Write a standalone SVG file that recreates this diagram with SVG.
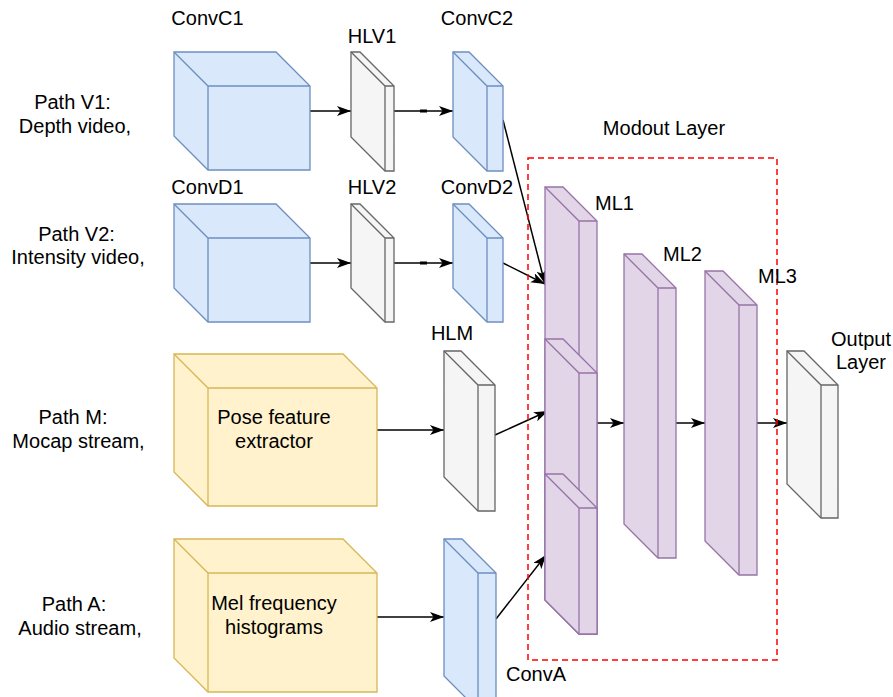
<svg xmlns="http://www.w3.org/2000/svg" width="893" height="697" viewBox="0 0 893 697">
<defs>
<marker id="arr" markerWidth="15" markerHeight="11" refX="14" refY="5" orient="auto" markerUnits="userSpaceOnUse">
<path d="M0,0 L14,5 L0,10 L3.5,5 Z" fill="#000"/>
</marker>
</defs>
<style>
text{font-family:"Liberation Sans",Arial,sans-serif;font-size:20px;fill:#000;text-anchor:middle}
.blue{fill:#dae8fc;stroke:#6c8ebf;stroke-width:1.3}
.gray{fill:#f5f5f5;stroke:#666666;stroke-width:1.3}
.yel{fill:#fff2cc;stroke:#d6b656;stroke-width:1.3}
.pur{fill:#e1d5e7;stroke:#9673a6;stroke-width:1.3}
.in{fill:none}
.c{fill:none;stroke:#000;stroke-width:1.5;marker-end:url(#arr)}
</style>
<rect width="893" height="697" fill="#fff"/>
<g id="connectors">
<path class="c" d="M310,111 H351"/>
<path class="c" d="M394,111 H453"/>
<rect x="420" y="109.5" width="7" height="3" fill="#000"/>
<path class="c" d="M310,263 H351"/>
<path class="c" d="M394,263 H453"/>
<rect x="420" y="261.5" width="7" height="3" fill="#000"/>
<path class="c" d="M503,120 L545,284"/>
<path class="c" d="M503,263 L545,284"/>
<path class="c" d="M377,430 H444"/>
<path class="c" d="M495,435 L548,411"/>
<path class="c" d="M377,617 H444"/>
<path class="c" d="M496,619 L546,555"/>
<path class="c" d="M597,423 H624"/>
<path class="c" d="M676,423 H705"/>
<path class="c" d="M757,423 H787"/>
</g>
<g id="ConvC1"><path class="blue" d="M174,52 H276 L310,86 V170 H208 L174,136 Z"/><path class="blue in" d="M174,52 L208,86 H310 M208,86 V170"/></g>
<g id="HLV1"><path class="gray" d="M351,52 H360 L394,86 V171 H385 L351,137 Z"/><path class="gray in" d="M351,52 L385,86 H394 M385,86 V171"/></g>
<g id="ConvC2"><path class="blue" d="M453,52 H469 L503,86 V171 H487 L453,137 Z"/><path class="blue in" d="M453,52 L487,86 H503 M487,86 V171"/></g>
<g id="ConvD1"><path class="blue" d="M174,204 H276 L310,238 V322 H208 L174,288 Z"/><path class="blue in" d="M174,204 L208,238 H310 M208,238 V322"/></g>
<g id="HLV2"><path class="gray" d="M351,204 H360 L394,238 V322 H385 L351,288 Z"/><path class="gray in" d="M351,204 L385,238 H394 M385,238 V322"/></g>
<g id="ConvD2"><path class="blue" d="M453,204 H469 L503,238 V322 H487 L453,288 Z"/><path class="blue in" d="M453,204 L487,238 H503 M487,238 V322"/></g>
<g id="Pose"><path class="yel" d="M174,354 H343 L377,388 V506 H208 L174,472 Z"/><path class="yel in" d="M174,354 L208,388 H377 M208,388 V506"/>
<text x="274" y="424">Pose feature</text><text x="274" y="448">extractor</text></g>
<g id="HLM"><path class="gray" d="M444,351 H461 L495,385 V511 H478 L444,477 Z"/><path class="gray in" d="M444,351 L478,385 H495 M478,385 V511"/></g>
<g id="Mel"><path class="yel" d="M174,539 H343 L377,573 V692 H208 L174,658 Z"/><path class="yel in" d="M174,539 L208,573 H377 M208,573 V692"/>
<text x="274" y="610">Mel frequency</text><text x="274" y="634">histograms</text></g>
<g id="ConvA"><path class="blue" d="M444,539 H462 L496,573 V710 H478 L444,676 Z"/><path class="blue in" d="M444,539 L478,573 H496 M478,573 V710"/></g>
<g id="ML1">
<path class="pur" d="M545,187 H563 L597,221 V634 H579 L545,600 Z"/><path class="pur in" d="M545,187 L579,221 H597 M579,221 V634"/>
<path class="pur" d="M545,339 H563 L597,373 V634 H579 L545,600 Z"/><path class="pur in" d="M545,339 L579,373 H597 M579,373 V634"/>
<path class="pur" d="M545,474 H563 L597,508 V634 H579 L545,600 Z"/><path class="pur in" d="M545,474 L579,508 H597 M579,508 V634"/>
</g>
<g id="ML2"><path class="pur" d="M624,254 H642 L676,288 V558 H658 L624,524 Z"/><path class="pur in" d="M624,254 L658,288 H676 M658,288 V558"/></g>
<g id="ML3"><path class="pur" d="M705,271 H723 L757,305 V575 H739 L705,541 Z"/><path class="pur in" d="M705,271 L739,305 H757 M739,305 V575"/></g>
<g id="Output"><path class="gray" d="M787,351 H804 L838,385 V518 H821 L787,484 Z"/><path class="gray in" d="M787,351 L821,385 H838 M821,385 V518"/></g>
<g id="Modout"><rect x="528" y="158" width="249" height="502" fill="none" stroke="#ff0000" stroke-width="1.5" stroke-dasharray="6 4"/></g>
<g id="labels">
<text x="207.5" y="25">ConvC1</text>
<text x="372" y="43">HLV1</text>
<text x="477" y="25">ConvC2</text>
<text x="207.5" y="194">ConvD1</text>
<text x="372" y="194">HLV2</text>
<text x="477" y="194">ConvD2</text>
<text x="452" y="340">HLM</text>
<text x="536" y="681">ConvA</text>
<text x="614.5" y="210">ML1</text>
<text x="682.5" y="261">ML2</text>
<text x="777.5" y="283">ML3</text>
<text x="664" y="135">Modout Layer</text>
<text x="861" y="346">Output</text>
<text x="861" y="369">Layer</text>
<text x="72.5" y="109">Path V1:</text>
<text x="75" y="133">Depth video,</text>
<text x="76.5" y="241">Path V2:</text>
<text x="78" y="264">Intensity video,</text>
<text x="73" y="424">Path M:</text>
<text x="78.5" y="448">Mocap stream,</text>
<text x="74" y="611">Path A:</text>
<text x="80" y="635">Audio stream,</text>
</g>
</svg>
